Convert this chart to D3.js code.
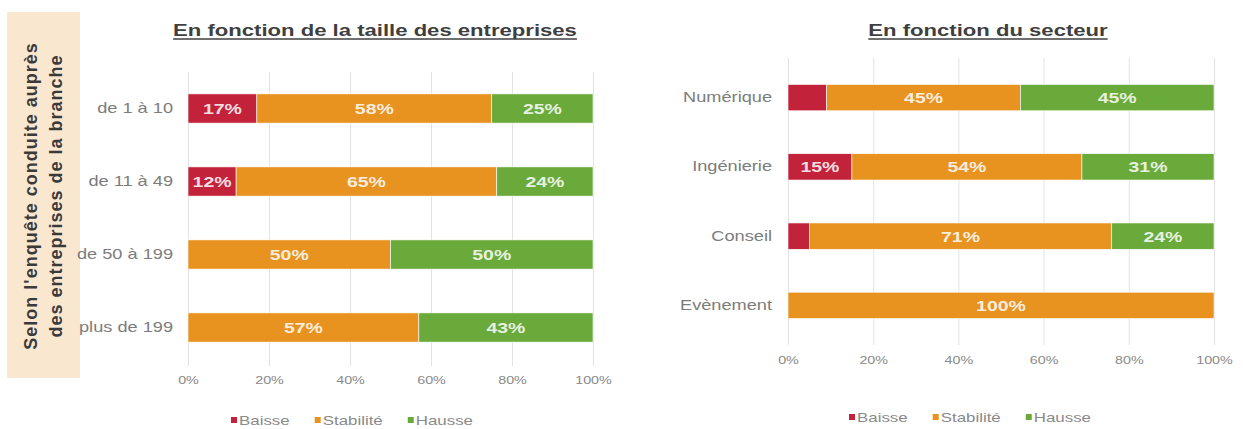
<!DOCTYPE html>
<html lang="fr">
<head>
<meta charset="utf-8">
<script src="https://cdn.jsdelivr.net/npm/d3@7"></script>
<style>
  html, body { margin: 0; padding: 0; background: #fff; }
  svg { display: block; font-family: "Liberation Sans", Arial, sans-serif; }
</style>
</head>
<body>
<svg id="chart" width="1243" height="429"></svg>
<script>
// Series shared by both panels
const seriesNames = ["Baisse", "Stabilité", "Hausse"];

// Panel 1: by company size (% of companies)
const sizeCategories = ["de 1 à 10", "de 11 à 49", "de 50 à 199", "plus de 199"];
const sizeBaisse     = [17, 12, 0, 0];
const sizeStabilite  = [58, 65, 50, 57];
const sizeHausse     = [25, 24, 50, 43];

// Panel 2: by sector (% of companies)
const sectorCategories = ["Numérique", "Ingénierie", "Conseil", "Evènement"];
const sectorBaisse     = [9, 15, 5, 0];
const sectorStabilite  = [45, 54, 71, 100];
const sectorHausse     = [45, 31, 24, 0];

// Axis ticks
const tickValues = [0, 0.2, 0.4, 0.6, 0.8, 1];
const tickLabels = ["0%", "20%", "40%", "60%", "80%", "100%"];

const seriesColors = ["#c2233b", "#e8921f", "#6aaa3b"];
const color = d3.scaleOrdinal().domain(seriesNames).range(seriesColors);

// Text is drawn horizontally widened
const WIDE = 1.3;

const svg = d3.select("#chart");

// Side note box with rotated text
const note = svg.append("g");
note.append("rect")
  .attr("x", 7).attr("y", 12).attr("width", 73).attr("height", 366)
  .attr("fill", "#fae7d0");
const noteText = note.append("text")
  .attr("transform", "translate(44,196) rotate(-90)")
  .attr("text-anchor", "middle")
  .attr("font-size", 18).attr("font-weight", "bold").attr("fill", "#3a3a3a")
  .attr("letter-spacing", 1);
noteText.append("tspan").attr("x", 0).attr("dy", "-0.4em").text("Selon l'enquête conduite auprès");
noteText.append("tspan").attr("x", 0).attr("dy", "1.4em").text("des entreprises de la branche");

function buildRows(categories, baisse, stabilite, hausse) {
  return categories.map((c, i) => ({
    category: c,
    "Baisse": baisse[i],
    "Stabilité": stabilite[i],
    "Hausse": hausse[i]
  }));
}

function wideText(sel, x, y) {
  return sel.attr("transform", `translate(${x},${y}) scale(${WIDE},1)`);
}

function drawPanel(cfg) {
  const rows = buildRows(cfg.categories, cfg.baisse, cfg.stabilite, cfg.hausse);
  const stacked = d3.stack().keys(seriesNames).offset(d3.stackOffsetExpand)(rows);

  const x = d3.scaleLinear().domain([0, 1]).range([cfg.left, cfg.right]);
  const y = d3.scaleBand().domain(cfg.categories).range([cfg.top, cfg.bottom]).padding(0);
  const barH = y.bandwidth() * cfg.barRatio;

  const g = svg.append("g");

  // Title, underlined
  const title = g.append("text")
    .attr("text-anchor", "middle")
    .attr("font-size", 17).attr("font-weight", "bold").attr("fill", "#3f3f3f")
    .text(cfg.title);
  wideText(title, cfg.titleX, cfg.titleY);
  const tw = title.node().getComputedTextLength() * WIDE;
  g.append("line")
    .attr("x1", cfg.titleX - tw / 2).attr("x2", cfg.titleX + tw / 2)
    .attr("y1", cfg.titleY + 3).attr("y2", cfg.titleY + 3)
    .attr("stroke", "#3f3f3f").attr("stroke-width", 1.3);

  // Gridlines and percentage ticks
  const xAxis = g.append("g")
    .attr("transform", `translate(0,${cfg.gridBottom})`)
    .call(d3.axisBottom(x)
      .tickValues(tickValues)
      .tickFormat((d, i) => tickLabels[i])
      .tickSize(-(cfg.gridBottom - cfg.gridTop))
      .tickPadding(cfg.tickPad));
  xAxis.select(".domain").remove();
  xAxis.selectAll(".tick line").attr("stroke", "#e3e3e3");
  xAxis.selectAll(".tick text")
    .attr("font-size", 11).attr("fill", "#8a8a8a")
    .attr("font-family", "Liberation Sans, Arial, sans-serif")
    .attr("transform", `scale(${WIDE},1)`);

  // Category labels
  const yAxis = g.append("g")
    .attr("transform", `translate(${cfg.left},0)`)
    .call(d3.axisLeft(y).tickSize(0).tickPadding(cfg.catPad));
  yAxis.select(".domain").remove();
  yAxis.selectAll(".tick text")
    .attr("x", -cfg.catPad / WIDE)
    .attr("font-size", 14).attr("fill", "#7c7c7c")
    .attr("font-family", "Liberation Sans, Arial, sans-serif")
    .attr("transform", `scale(${WIDE},1)`);

  // Stacked bars
  const layers = g.selectAll("g.layer").data(stacked).join("g")
    .attr("class", "layer")
    .attr("fill", d => color(d.key));
  layers.selectAll("rect")
    .data(d => d.map(s => ({ s, key: d.key })))
    .join("rect")
    .attr("x", d => x(d.s[0]))
    .attr("width", d => x(d.s[1]) - x(d.s[0]))
    .attr("y", d => y(d.s.data.category) + (y.bandwidth() - barH) / 2)
    .attr("height", barH)
    .attr("stroke", "#fff").attr("stroke-width", 0.6);

  // Value labels for segments of 10% and more
  layers.selectAll("text")
    .data(d => d.map(s => ({ s, key: d.key, v: s.data[d.key] })).filter(d => d.v >= 10))
    .join("text")
    .attr("transform", d =>
      `translate(${(x(d.s[0]) + x(d.s[1])) / 2},${y(d.s.data.category) + y.bandwidth() / 2}) scale(${WIDE},1)`)
    .attr("dy", "0.36em")
    .attr("text-anchor", "middle")
    .attr("font-size", 15).attr("font-weight", "bold")
    .attr("fill", "#fff").attr("fill-opacity", 0.85)
    .text(d => d.v + "%");

  // Legend
  const legend = g.append("g").attr("transform", `translate(${cfg.legendX},${cfg.legendY})`);
  let lx = 0;
  seriesNames.forEach(name => {
    const item = legend.append("g").attr("transform", `translate(${lx},0)`);
    item.append("rect").attr("x", 0).attr("y", -3).attr("width", 6).attr("height", 6)
      .attr("fill", color(name));
    const t = item.append("text").attr("dy", "0.36em")
      .attr("font-size", 13).attr("fill", "#8a8a8a").text(name);
    wideText(t, 8, 0);
    lx += 8 + t.node().getComputedTextLength() * WIDE + 25;
  });
}

drawPanel({
  title: "En fonction de la taille des entreprises",
  categories: sizeCategories, baisse: sizeBaisse, stabilite: sizeStabilite, hausse: sizeHausse,
  left: 188, right: 593, top: 72, bottom: 364, barRatio: 0.4,
  gridTop: 72, gridBottom: 366, tickPad: 10, catPad: 15,
  titleX: 375, titleY: 36, legendX: 231, legendY: 420
});

drawPanel({
  title: "En fonction du secteur",
  categories: sectorCategories, baisse: sectorBaisse, stabilite: sectorStabilite, hausse: sectorHausse,
  left: 788, right: 1214, top: 63, bottom: 340, barRatio: 0.38,
  gridTop: 58, gridBottom: 345, tickPad: 11, catPad: 16,
  titleX: 988, titleY: 36, legendX: 849, legendY: 417
});
</script>
</body>
</html>
